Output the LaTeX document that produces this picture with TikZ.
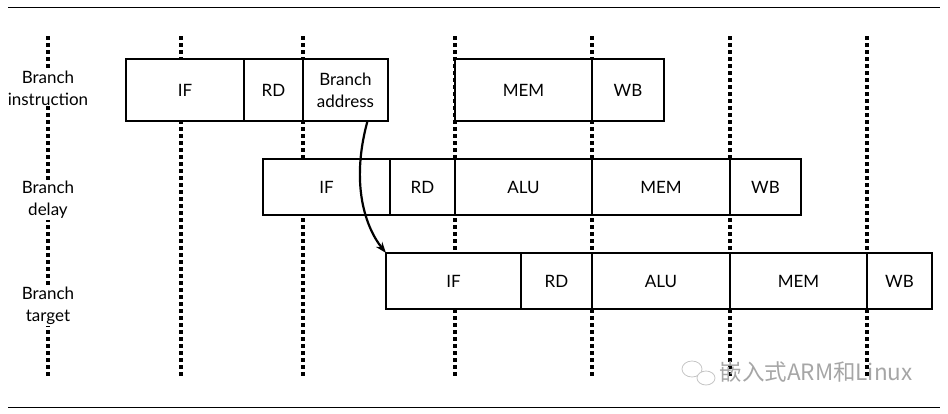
\documentclass[tikz,border=0pt]{standalone}
\usepackage{fontspec}
\setmainfont{Lato}
\newfontfamily\cjk{Noto Sans CJK SC}
\usetikzlibrary{arrows.meta, positioning}

\begin{document}
\begin{tikzpicture}[
  x=1pt, y=-1pt,
  font=\fontsize{17}{22}\selectfont,
  stage/.style={draw, fill=white, line width=1.5pt, inner sep=0pt, outer sep=0pt, minimum height=56},
  tall/.style={stage, minimum height=62},
  rowlabel/.style={fill=white, align=center, inner sep=1pt},
  tick/.style={line width=3.5pt, dash pattern=on 4pt off 3pt},
  arr/.style={-{Stealth[length=11pt, width=8pt]}, line width=2.2pt}]
\useasboundingbox (0,0) rectangle (948,413);
% frame rules
\draw[line width=1pt] (8,7) -- (940,7);
\draw[line width=1pt] (8,407) -- (940,407);
% clock boundaries
\foreach \x in {48,181,303,455,592,730,867}{
  \draw[tick] (\x,36) -- (\x,377);
}
% row labels
\node[rowlabel] (lins) at (48,88) {Branch\\instruction};
\node[rowlabel] (ldel) at (48,200) {Branch\\delay};
\node[rowlabel] (ltgt) at (48,306) {Branch\\target};
% branch instruction
\node[tall, minimum width=118, anchor=west] (iIF) at (126,90) {IF};
\node[tall, minimum width=59, right=0pt of iIF] (iRD) {RD};
\node[tall, minimum width=85, right=0pt of iRD, align=center] (iBA) {Branch\\address};
\node[tall, minimum width=137, anchor=west] (iMEM) at (455,90) {MEM};
\node[tall, minimum width=72, right=0pt of iMEM] (iWB) {WB};
% branch delay
\node[stage, minimum width=127, anchor=west] (dIF) at (263,187) {IF};
\node[stage, minimum width=65, right=0pt of dIF] (dRD) {RD};
\node[stage, minimum width=137, right=0pt of dRD] (dALU) {ALU};
\node[stage, minimum width=138, right=0pt of dALU] (dMEM) {MEM};
\node[stage, minimum width=71, right=0pt of dMEM] (dWB) {WB};
% branch target
\node[stage, minimum width=135, anchor=west] (tIF) at (386,281) {IF};
\node[stage, minimum width=71, right=0pt of tIF] (tRD) {RD};
\node[stage, minimum width=138, right=0pt of tRD] (tALU) {ALU};
\node[stage, minimum width=137, right=0pt of tALU] (tMEM) {MEM};
\node[stage, minimum width=65, right=0pt of tMEM] (tWB) {WB};
% target address goes to fetch
\draw[arr] ([xshift=22pt]iBA.south) .. controls (350,185) and (366,228) .. (tIF.north west);
% watermark
\draw[gray!45, line width=0.8pt] (692,369) ellipse (10 and 8);
\draw[gray!45, line width=0.8pt, fill=white] (706,378) ellipse (9 and 7);
\node[gray!70, font=\cjk\fontsize{22.5}{26}\selectfont, anchor=west] (wm) at (716,372) {嵌入式ARM和Linux};
\end{tikzpicture}
\end{document}
